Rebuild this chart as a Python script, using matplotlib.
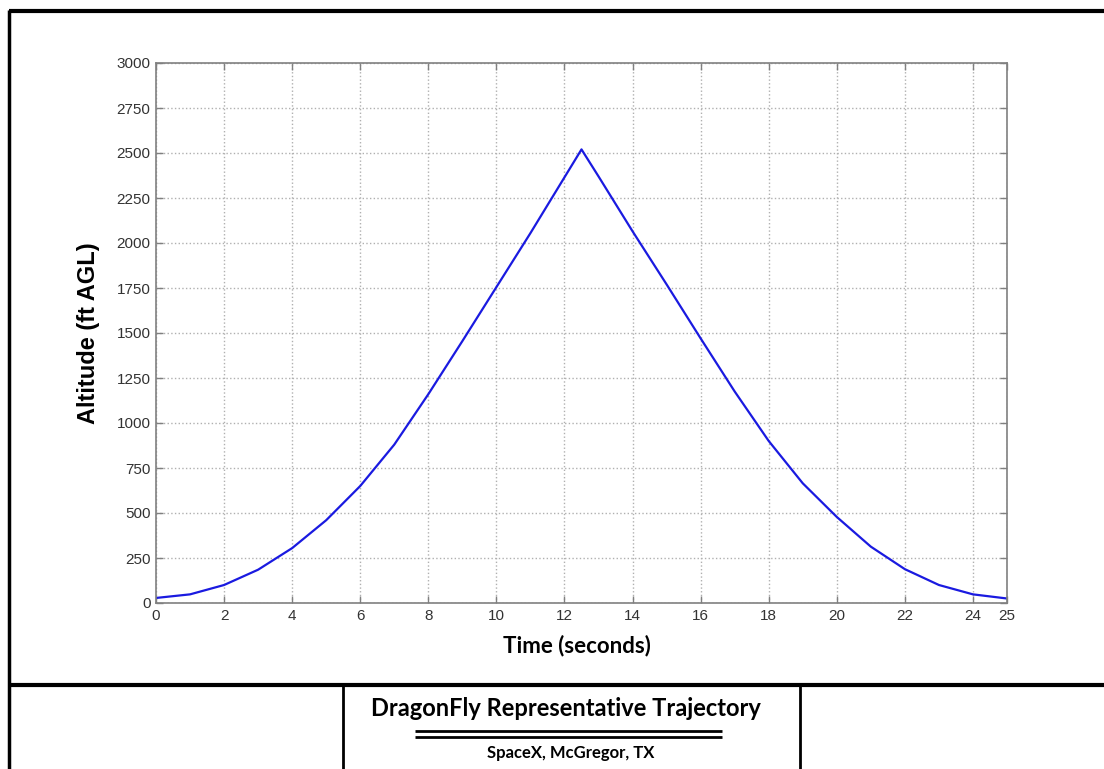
import numpy as np
import matplotlib
matplotlib.use('Agg')
import matplotlib.pyplot as plt
from matplotlib.lines import Line2D

# DATA
# ---------------------------------------------------------
time_s = [0, 1, 2, 3, 4, 5, 6, 7, 8, 9, 10, 11, 12, 12.5,
          13, 14, 15, 16, 17, 18, 19, 20, 21, 22, 23, 24, 25]
altitude_ft = [28, 48, 100, 185, 305, 460, 650, 880, 1160, 1455, 1755, 2055, 2365, 2520,
               2370, 2065, 1770, 1470, 1175, 900, 665, 478, 313, 188, 100, 48, 25]

x_ticks = [0, 2, 4, 6, 8, 10, 12, 14, 16, 18, 20, 22, 24, 25]
y_ticks = list(range(0, 3001, 250))

title_text = 'DragonFly Representative Trajectory'
subtitle_text = 'SpaceX, McGregor, TX'

# FIGURE
# ---------------------------------------------------------
W, H = 1104, 769
fig = plt.figure(figsize=(W / 100, H / 100), dpi=100)

def px(x, y):
    # pixel coords (top-left origin) -> figure fraction
    return x / W, 1 - y / H

ax_l, ax_r, ax_t, ax_b = 156, 1007, 63, 603
ax = fig.add_axes([ax_l / W, 1 - ax_b / H, (ax_r - ax_l) / W, (ax_b - ax_t) / H])

ax.plot(time_s, altitude_ft, color='#1a1ae0', linewidth=1.6)

ax.set_xlim(0, 25)
ax.set_ylim(0, 3000)
ax.set_xticks(x_ticks)
ax.set_yticks(y_ticks)
ax.grid(True, linestyle=':', color='#b0b0b0', linewidth=1.0)

for s in ax.spines.values():
    s.set_color('#808080')
    s.set_linewidth(1.2)
ax.tick_params(direction='in', length=5, width=1, colors='#808080',
               top=True, right=True, labelsize=11, labelcolor='#333333', pad=4)
for lbl in ax.get_xticklabels() + ax.get_yticklabels():
    lbl.set_family('Liberation Sans')

ax.set_ylabel('Altitude (ft AGL)', family='Liberation Sans', fontsize=17,
              fontweight='bold', color='black', labelpad=12)
fig.text(*px(577, 646), 'Time (seconds)', family='Lato', fontsize=16,
         fontweight='bold', ha='center', va='center')

# FRAME / TITLE BLOCK
# ---------------------------------------------------------
def seg(x0, y0, x1, y1, lw):
    a, b = px(x0, y0)
    c, d = px(x1, y1)
    fig.add_artist(Line2D([a, c], [b, d], color='black', linewidth=lw,
                          transform=fig.transFigure, solid_capstyle='butt'))

seg(9, 11, W, 11, 3.0)        # top border
seg(9, 10, 9, H, 2.5)         # left border
seg(9, 685, W, 685, 3.0)      # divider
seg(343, 685, 343, H, 2.0)
seg(800, 685, 800, H, 2.0)
seg(415, 731, 722, 731, 2.0)  # double rule
seg(415, 737, 722, 737, 2.0)

fig.text(*px(566, 709), title_text, family='Lato', fontsize=17,
         fontweight='bold', ha='center', va='center')
fig.text(*px(571, 753), subtitle_text, family='Lato', fontsize=12,
         fontweight='bold', ha='center', va='center')

fig.savefig('out.png', dpi=100, facecolor='white')
